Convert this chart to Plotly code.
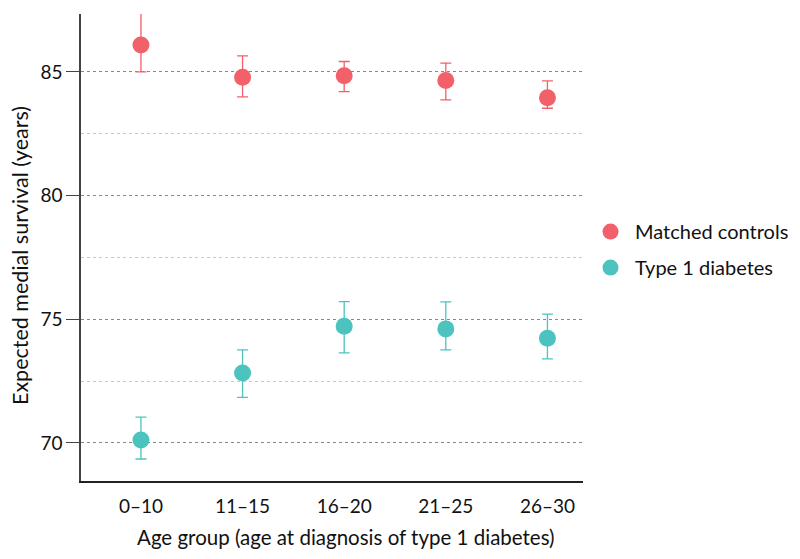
import plotly.graph_objects as go

age_groups = ["0–10", "11–15", "16–20", "21–25", "26–30"]

controls_mean = [86.09, 84.78, 84.84, 84.65, 83.95]
controls_upper = [87.45, 85.65, 85.42, 85.35, 84.64]
controls_lower = [85.00, 83.99, 84.20, 83.87, 83.53]

t1d_mean = [70.12, 72.83, 74.72, 74.61, 74.23]
t1d_upper = [71.04, 73.76, 75.71, 75.70, 75.21]
t1d_lower = [69.35, 71.84, 73.64, 73.76, 73.40]

x_title = "Age group (age at diagnosis of type 1 diabetes)"
y_title = "Expected medial survival (years)"

red = "#F2606A"
teal = "#4CC3BE"
FONT = "Lato"

def trace(name, mean, upper, lower, color):
    return go.Scatter(
        x=list(range(len(age_groups))), y=mean, name=name, mode="markers",
        legendgroup=name, cliponaxis=False,
        marker=dict(color=color, size=17, line=dict(width=0)),
        error_y=dict(type="data", symmetric=False,
                     array=[u - m for u, m in zip(upper, mean)],
                     arrayminus=[m - l for m, l in zip(mean, lower)],
                     color=color, thickness=1.3, width=5.5),
    )

fig = go.Figure()
fig.add_trace(trace("Matched controls", controls_mean, controls_upper, controls_lower, red))
fig.add_trace(trace("Type 1 diabetes", t1d_mean, t1d_upper, t1d_lower, teal))

# page body has an 8px margin: figure is 784x543 so the page is 800x559
fig.update_layout(
    width=784, height=543,
    margin=dict(l=73, r=209, t=6, b=70, autoexpand=False),
    plot_bgcolor="white", paper_bgcolor="white",
    font=dict(family=FONT, size=19, color="#111"),
    legend=dict(x=1.006, y=0.4955, xanchor="left", yanchor="middle",
                font=dict(size=20, family=FONT), itemsizing="trace",
                tracegroupgap=7, itemwidth=39),
    showlegend=True,
    annotations=[
        dict(text=x_title, xref="paper", yref="paper", x=0.5269, y=-0.1199,
             xanchor="center", yanchor="middle", showarrow=False,
             font=dict(size=20.5, family=FONT, color="#111")),
        dict(text=y_title, xref="paper", yref="paper", x=-0.1215, y=0.4818,
             xanchor="center", yanchor="middle", textangle=-90, showarrow=False,
             font=dict(size=21.5, family=FONT, color="#111")),
    ],
)
fig.update_xaxes(
    tickmode="array", tickvals=list(range(len(age_groups))), ticktext=age_groups,
    range=[-0.59, 4.35], showgrid=False, zeroline=False, automargin=False,
    showline=True, linecolor="#222", linewidth=1.5, ticks="", ticklabelstandoff=7,
    tickfont=dict(size=19),
)
fig.update_yaxes(
    range=[68.46, 87.34], tickvals=[70, 75, 80, 85], zeroline=False, automargin=False,
    showline=True, linecolor="#444", linewidth=1.5,
    ticks="outside", ticklen=13, tickcolor="#444", tickwidth=1.3,
    showgrid=True, gridcolor="#888", griddash="dot", gridwidth=1,
    minor=dict(tickvals=[72.5, 77.5, 82.5], showgrid=True, gridcolor="#c8c8c8",
               griddash="dot", gridwidth=1, ticks=""),
    tickfont=dict(size=19),
)

fig.write_html("out.html")
